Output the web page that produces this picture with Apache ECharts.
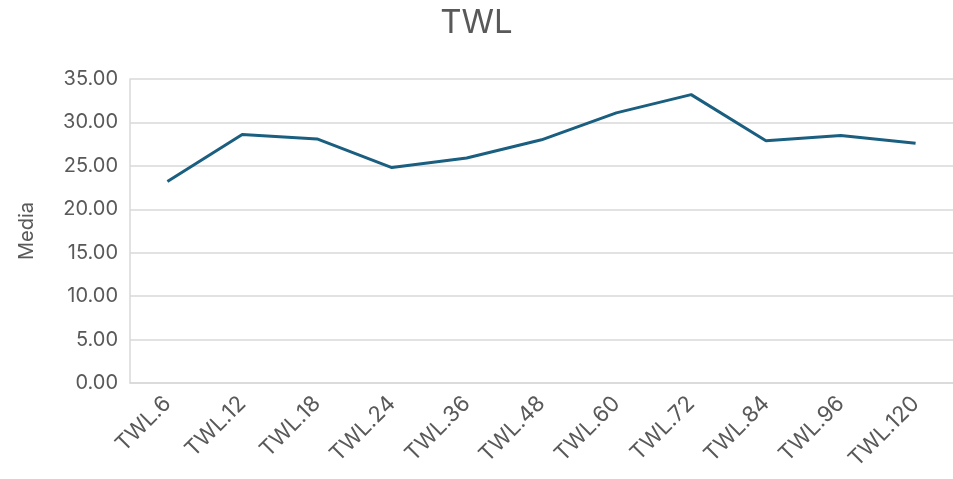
<!DOCTYPE html>
<html>
<head>
<meta charset="utf-8">
<script src="https://cdn.jsdelivr.net/npm/echarts@6/dist/echarts.min.js"></script>
<style>
    html, body { margin: 0; padding: 0; background: #fff; }
    #chart { width: 953px; height: 479px; }
</style>
</head>
<body>
<div id="chart"></div>
<script>
const categories = ['TWL.6', 'TWL.12', 'TWL.18', 'TWL.24', 'TWL.36', 'TWL.48', 'TWL.60', 'TWL.72', 'TWL.84', 'TWL.96', 'TWL.120'];
const mediaValues = [23.2, 28.6, 28.1, 24.8, 25.9, 28.0, 31.1, 33.2, 27.9, 28.5, 27.6];

const TEXT_COLOR = '#595959';
const GRID_COLOR = '#d9d9d9';

const myChart = echarts.init(document.getElementById('chart'));
const option = {
    title: {
        text: 'TWL',
        left: 'center',
        top: 2,
        textStyle: {
            fontFamily: 'Inter',
            fontSize: 33,
            fontWeight: 'normal',
            color: TEXT_COLOR,
        },
    },
    grid: {
        left: 130,
        top: 79,
        width: 829,
        height: 304,
    },
    xAxis: {
        type: 'category',
        data: categories,
        boundaryGap: true,
        axisLine: {
            lineStyle: { color: GRID_COLOR, width: 1.5 },
        },
        axisTick: { show: false },
        axisLabel: {
            rotate: 45,
            interval: 0,
            margin: 17,
            fontFamily: 'Inter',
            fontSize: 22,
            color: TEXT_COLOR,
        },
    },
    yAxis: {
        type: 'value',
        min: 0,
        max: 35,
        interval: 5,
        name: 'Media',
        nameLocation: 'middle',
        nameGap: 93,
        nameTextStyle: {
            fontFamily: 'Inter',
            fontSize: 20,
            color: TEXT_COLOR,
        },
        axisLine: {
            show: true,
            lineStyle: { color: GRID_COLOR, width: 1.5 },
        },
        axisTick: { show: false },
        axisLabel: {
            margin: 12,
            fontFamily: 'Inter',
            fontSize: 20,
            color: TEXT_COLOR,
            formatter: v => v.toFixed(2),
        },
        splitLine: {
            show: true,
            lineStyle: { color: GRID_COLOR, width: 1.5 },
        },
    },
    series: [
        {
            name: 'Media',
            type: 'line',
            data: mediaValues,
            symbol: 'none',
            smooth: false,
            lineStyle: { color: '#1b5f80', width: 3 },
        },
    ],
};
myChart.setOption(option);
</script>
</body>
</html>
